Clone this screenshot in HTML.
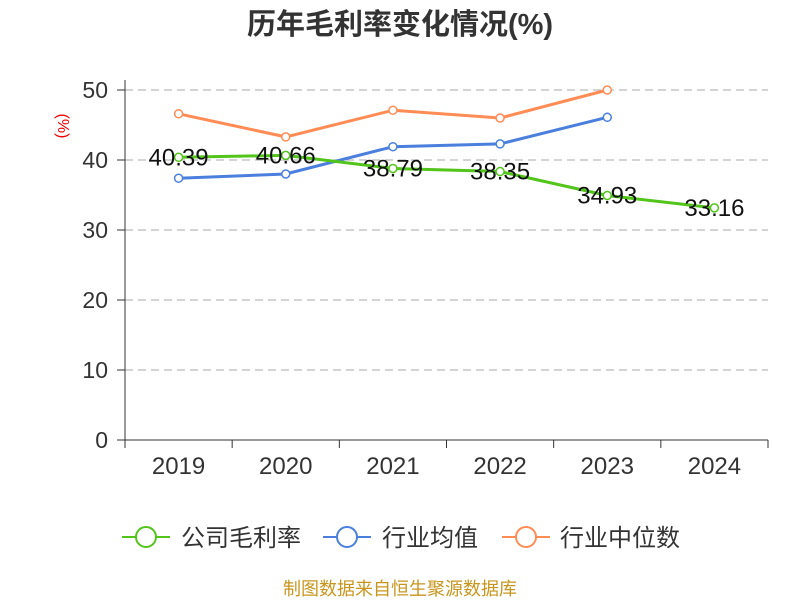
<!DOCTYPE html>
<html><head><meta charset="utf-8"><style>
body{margin:0;background:#fff;font-family:"Liberation Sans","Noto Sans CJK SC",sans-serif;}
svg text{font-family:"Liberation Sans","Noto Sans CJK SC",sans-serif;}
</style></head><body>
<svg id="chart" width="800" height="600" xmlns="http://www.w3.org/2000/svg">
<text x="400" y="34" text-anchor="middle" font-size="29" font-weight="bold" fill="#333">历年毛利率变化情况(%)</text>
<text x="58" y="126" text-anchor="middle" font-size="16" fill="#e00" transform="rotate(90 58 126)">(%)</text>
<g id="grid"></g><g id="axes"></g><g id="series"></g>
<g>
<g><line x1="122" y1="537" x2="170" y2="537" stroke="#52c41a" stroke-width="2"/><circle cx="146" cy="537" r="10" fill="#fff" stroke="#52c41a" stroke-width="2"/><text x="181" y="546" font-size="24" fill="#333">公司毛利率</text></g>
<g><line x1="323" y1="537" x2="371" y2="537" stroke="#4a7fdd" stroke-width="2"/><circle cx="347" cy="537" r="10" fill="#fff" stroke="#4a7fdd" stroke-width="2"/><text x="382" y="546" font-size="24" fill="#333">行业均值</text></g>
<g><line x1="502" y1="537" x2="550" y2="537" stroke="#ff8c55" stroke-width="2"/><circle cx="526" cy="537" r="10" fill="#fff" stroke="#ff8c55" stroke-width="2"/><text x="560" y="546" font-size="24" fill="#333">行业中位数</text></g>
</g>
<text x="400" y="595" text-anchor="middle" font-size="18" fill="#c8961e">制图数据来自恒生聚源数据库</text>
</svg>
<script>
const categories=["2019","2020","2021","2022","2023","2024"];
const companyValues=[40.39,40.66,38.79,38.35,34.93,33.16];
const industryAvg=[37.4,38.0,41.9,42.3,46.1];
const industryMedian=[46.6,43.3,47.1,46.0,50.0];
const yTicks=[0,10,20,30,40,50];
const NS="http://www.w3.org/2000/svg";
const x0=125,x1=768,yb=440,yt=90,ymax=50;
const bw=(x1-x0)/categories.length;
const xs=i=>x0+bw*(i+0.5);
const ys=v=>yb-(v/ymax)*(yb-yt);
function mk(tag,attrs,parent){const e=document.createElementNS(NS,tag);for(const k in attrs)e.setAttribute(k,attrs[k]);parent.appendChild(e);return e;}
const grid=document.getElementById('grid'),axes=document.getElementById('axes'),ser=document.getElementById('series');
yTicks.forEach(t=>{
 if(t>0){const l=mk('line',{x1:x0,x2:x1,y1:ys(t),y2:ys(t),stroke:'#bbb','stroke-width':1.3,'stroke-dasharray':'8,5'},grid);
 
 }
 const tk=mk('line',{x1:x0-8,x2:x0,y1:ys(t),y2:ys(t),stroke:'#333'},axes);
 
 
 const tx=mk('text',{x:x0-17,y:ys(t)+8,'text-anchor':'end','font-size':23,fill:'#333'},axes);tx.textContent=t;
 
 
});
const ya=mk('line',{x1:x0,x2:x0,y1:yt-10,y2:yb,stroke:'#333'},axes);


const xa=mk('line',{x1:x0,x2:x1,y1:yb,y2:yb,stroke:'#333'},axes);


for(let i=0;i<=categories.length;i++){const l=mk('line',{x1:x0+bw*i,x2:x0+bw*i,y1:yb,y2:yb+8,stroke:'#333'},axes);
 
 }
categories.forEach((c,i)=>{const t=mk('text',{x:xs(i),y:yb+34,'text-anchor':'middle','font-size':24,fill:'#333'},axes);t.textContent=c;
 
 });
function series(vals,color,name,labels){
 const g=mk('g',{},ser);
 
 
 const p=mk('polyline',{points:vals.map((v,i)=>xs(i)+','+ys(v)).join(' '),fill:'none',stroke:color,'stroke-width':3},g);
 
 
 vals.forEach((v,i)=>{const c=mk('circle',{cx:xs(i),cy:ys(v),r:4,fill:'#fff',stroke:color,'stroke-width':1.5},g);
  
  
  if(labels){const t=mk('text',{x:xs(i),y:ys(v)+8,'text-anchor':'middle','font-size':24,fill:'#111'},g);t.textContent=v.toFixed(2);
  
  }
 });
}
series(industryMedian,'#ff8c55','industry-median-series',false);
series(industryAvg,'#4a7fdd','industry-avg-series',false);
series(companyValues,'#52c41a','company-series',true);
</script>
</body></html>
